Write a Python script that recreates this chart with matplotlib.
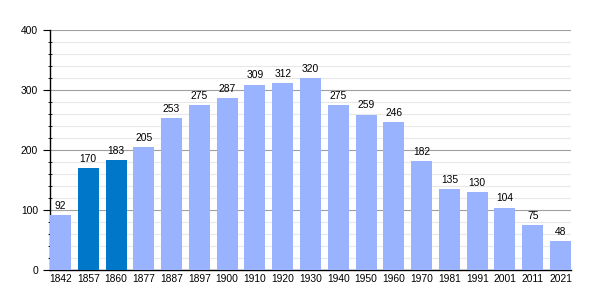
import matplotlib
matplotlib.use('Agg')
import matplotlib.pyplot as plt
from matplotlib.ticker import MultipleLocator

plt.rcParams['font.family'] = ['Liberation Sans', 'DejaVu Sans']

years = ['1842', '1857', '1860', '1877', '1887', '1897', '1900', '1910', '1920', '1930',
         '1940', '1950', '1960', '1970', '1981', '1991', '2001', '2011', '2021']
pop = [92, 170, 183, 205, 253, 275, 287, 309, 312, 320, 275, 259, 246, 182, 135, 130, 104, 75, 48]
highlight = ['1857', '1860']

light = '#99b3ff'
dark = '#0077c8'
colors = [dark if y in highlight else light for y in years]

fig = plt.figure(figsize=(6, 3), dpi=100)
ax = fig.add_axes([50/600, 30/300, 521/600, 240/300])

w = 0.755
x = range(len(years))
ax.bar(x, pop, width=w, color=colors, zorder=3)
# etiquetas de valor encima de cada barra
for i, v in enumerate(pop):
    ax.text(i, v + 7, str(v), ha='center', va='bottom', fontsize=7.4, zorder=4)

ax.set_xlim(-w/2, len(years) - 1 + w/2)
ax.set_ylim(0, 400)
ax.set_xticks(list(x))
ax.set_xticklabels(years, fontsize=7.4)
ax.tick_params(axis='x', length=0, pad=3)
ax.yaxis.set_major_locator(MultipleLocator(100))
ax.yaxis.set_minor_locator(MultipleLocator(20))
ax.tick_params(axis='y', which='major', length=5, labelsize=7.4, direction='out')
ax.tick_params(axis='y', which='minor', length=3, direction='inout')
ax.grid(axis='y', which='major', color='#a0a0a0', linewidth=0.8, zorder=0)
ax.grid(axis='y', which='minor', color='#e8e8e8', linewidth=0.8, zorder=0)
for s in ['top', 'right']:
    ax.spines[s].set_visible(False)
ax.spines['left'].set_linewidth(1)
ax.spines['bottom'].set_linewidth(1)

fig.savefig('out.png', dpi=100)
